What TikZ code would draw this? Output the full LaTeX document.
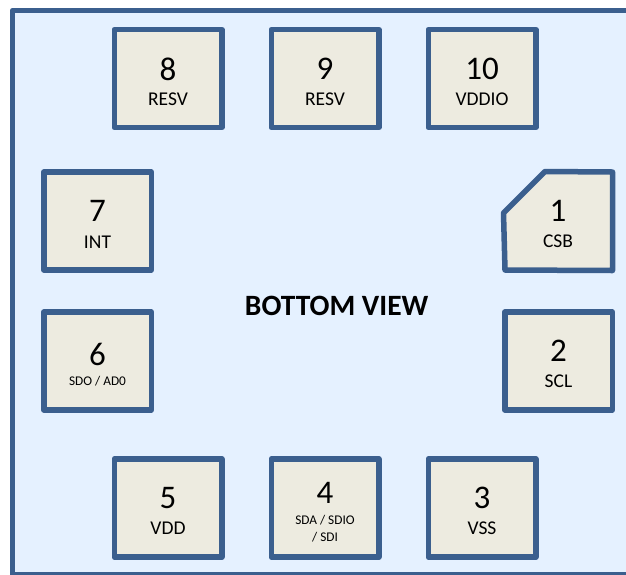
\documentclass[tikz,border=0pt]{standalone}
\usepackage{fontspec}
\setmainfont{Carlito}
\usetikzlibrary{positioning}

\definecolor{padline}{HTML}{3B5F8E}
\definecolor{padfill}{HTML}{EDEBE0}
\definecolor{chipfill}{HTML}{E5F1FF}

\newcommand{\pinnum}[1]{{\fontsize{33}{33}\selectfont #1}}
\newcommand{\pinname}[1]{{\fontsize{19.5}{20}\selectfont #1}}

\tikzset{
    pad/.style={draw=padline, fill=padfill, line width=5.5pt, line join=round,
        minimum width=107.5pt, minimum height=98pt, inner sep=0pt},
    padtext/.style={inner sep=0pt, align=center},
    smallname/.style={padtext, font=\fontsize{13.3}{17}\selectfont}
}

\begin{document}
\begin{tikzpicture}[x=1pt,y=-1pt]
\useasboundingbox (0,0) rectangle (626,574);
\clip (0,0) rectangle (626,574);

% package outline
\draw[draw=padline, fill=chipfill, line width=5.5pt, line join=round] (12.5,10.5) rectangle (640,575);

% top row
\node[pad] (pad8) at (168,78.5) {};
\node[pad] (pad9) at (325,78.5) {};
\node[pad] (pad10) at (482,78.5) {};

% left column
\node[pad] (pad7) at (97.5,221) {};
\node[pad] (pad6) at (97.5,361) {};

% right column
\draw[draw=padline, fill=padfill, line width=5.5pt, line join=round]
    (545,171.5) -- (612.5,172) -- (612.5,270.5) -- (505,270) -- (503.5,213) -- cycle;
\node[pad] (pad2) at (558.5,361) {};

% bottom row
\node[pad] (pad5) at (168,508) {};
\node[pad] (pad4) at (325,508) {};
\node[pad] (pad3) at (482,508) {};

% pin numbers
\node[padtext] (num8) at (168,69) {\pinnum{8}};
\node[padtext] (num9) at (325,69) {\pinnum{9}};
\node[padtext] (num10) at (482,69) {\pinnum{10}};
\node[padtext] (num7) at (97.5,211) {\pinnum{7}};
\node[padtext] (num6) at (97.5,354) {\pinnum{6}};
\node[padtext] (num1) at (558,211) {\pinnum{1}};
\node[padtext] (num2) at (558.5,351) {\pinnum{2}};
\node[padtext] (num5) at (168,498) {\pinnum{5}};
\node[padtext] (num4) at (325,493) {\pinnum{4}};
\node[padtext] (num3) at (482,498) {\pinnum{3}};

% pin names
\node[padtext] (name8) at (168,99) {\pinname{RESV}};
\node[padtext] (name9) at (325,99) {\pinname{RESV}};
\node[padtext] (name10) at (482,99) {\pinname{VDDIO}};
\node[padtext] (name7) at (97.5,242) {\pinname{INT}};
\node[smallname] (name6) at (97.5,381.5) {SDO / AD0};
\node[padtext] (name1) at (558,241) {\pinname{CSB}};
\node[padtext] (name2) at (558.5,381) {\pinname{SCL}};
\node[padtext] (name5) at (168,528) {\pinname{VDD}};
\node[smallname] (name4) at (325,528.5) {SDA / SDIO\\/ SDI};
\node[padtext] (name3) at (482,528) {\pinname{VSS}};

% title
\node[padtext, font=\bfseries\fontsize{29.5}{30}\selectfont] (title) at (336.7,306) {BOTTOM VIEW};
\end{tikzpicture}
\end{document}
